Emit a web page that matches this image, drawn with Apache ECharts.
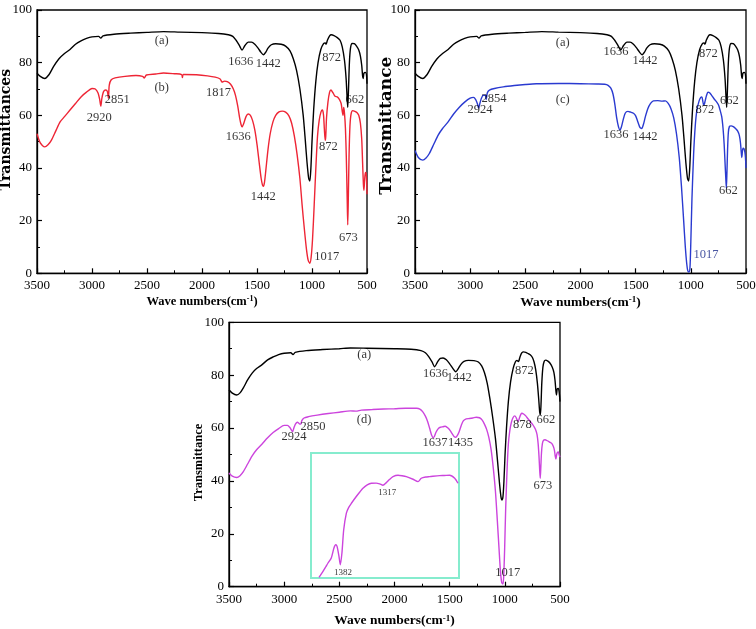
<!DOCTYPE html>
<html><head><meta charset="utf-8">
<script src="https://cdn.jsdelivr.net/npm/echarts@6/dist/echarts.min.js"></script>
<style>html,body{margin:0;padding:0;background:#fff}#c{width:756px;height:629px}</style>
</head><body><div id="c"></div>
<script>
// ---- data: [wavenumber (cm-1), transmittance] ----
const curveA_top = [[3500,76],[3470,74.8],[3430,74],[3390,75.5],[3350,78.5],[3300,81.5],[3250,83.5],[3200,85],[3150,87],[3100,88.3],[3050,89.2],[3000,89.8],[2940,90],[2920,89.3],[2900,90.2],[2800,90.8],[2650,91.2],[2500,91.5],[2350,91.8],[2200,91.6],[2000,91.4],[1850,91.1],[1760,90.6],[1720,90],[1690,88.5],[1660,86.5],[1636,84.8],[1610,86.5],[1580,87.8],[1550,87.8],[1520,87],[1490,85.5],[1465,84],[1442,83],[1420,84],[1400,85.5],[1370,86.8],[1330,87.2],[1280,87],[1240,86.3],[1200,84.5],[1170,81.5],[1140,77],[1110,70],[1080,60],[1060,50],[1045,42],[1030,36],[1020,35],[1010,40],[1000,50],[985,62],[965,73],[945,80],[920,85],[895,87.2],[880,87.5],[872,87],[860,88.5],[840,90.2],[825,90.6],[800,90.3],[770,89.5],[745,88.5],[725,86],[705,81],[690,74],[680,66],[675,63],[668,70],[660,80],[650,85.5],[635,87.3],[615,87.2],[595,86.3],[575,84.8],[560,82.5],[548,79],[540,75],[535,74],[528,76],[515,76.3],[505,75.5],[500,72]];
const curveB = [[3500,53],[3470,49.5],[3430,48],[3400,48.8],[3370,50.5],[3330,54],[3290,57.5],[3250,59.5],[3200,62],[3150,64.5],[3100,67],[3050,68.8],[3000,70.2],[2970,70],[2945,68.5],[2930,66],[2920,63.5],[2910,66.5],[2895,69],[2875,69.6],[2860,69],[2851,66.5],[2843,71.5],[2825,73.5],[2790,74.2],[2700,74.8],[2600,75.1],[2540,74.8],[2525,74.2],[2505,75.3],[2420,75.7],[2350,76.1],[2250,75.8],[2185,75.5],[2178,74.3],[2170,75.5],[2050,75.4],[1950,75],[1880,74.5],[1835,73.8],[1817,72.6],[1795,73],[1770,72.8],[1740,71.8],[1715,70],[1695,67.5],[1675,63.5],[1658,59],[1645,56.5],[1636,55.6],[1620,57],[1600,59.5],[1580,60.5],[1560,60],[1540,58],[1520,54.5],[1500,49],[1480,42],[1462,36],[1450,33.5],[1442,33],[1432,34.5],[1420,39],[1400,47],[1380,53],[1355,57.5],[1330,60],[1300,61.3],[1270,61.6],[1240,61.2],[1210,59.8],[1185,57],[1160,52],[1135,45],[1110,36],[1090,26],[1070,17],[1050,9],[1035,5],[1020,3.8],[1008,6],[995,13],[980,26],[965,40],[950,52],[935,58],[918,61.3],[905,62],[895,60],[888,55],[880,50.5],[875,52],[868,59],[855,65],[840,68.8],[828,69.6],[810,68.6],[790,67.2],[770,67],[750,66],[735,64.5],[725,61.5],[718,60],[712,63],[705,61],[696,55],[688,44],[680,28],[675,18.4],[670,28],[663,45],[655,56],[645,60.5],[630,61.8],[610,61.5],[590,61],[575,60],[560,57],[548,51],[540,42],[533,34],[528,31.5],[522,35],[515,38.3],[508,38],[503,35],[500,30]];
const curveC = [[3500,46.6],[3470,44],[3430,43],[3400,43.8],[3370,45.5],[3330,49],[3290,52.5],[3250,55],[3200,57.5],[3150,60.5],[3100,63],[3050,65],[3000,66.5],[2970,66.8],[2950,66],[2935,64.5],[2924,62.7],[2912,64.5],[2898,66.5],[2880,67.6],[2862,67.5],[2854,66],[2845,68.5],[2825,69.6],[2780,70.2],[2700,70.8],[2600,71.3],[2500,71.7],[2400,72],[2200,72.1],[2000,72],[1850,71.9],[1780,71.8],[1750,71.4],[1725,70.3],[1705,68],[1688,64],[1672,59],[1655,55.5],[1642,54.4],[1630,55.5],[1615,58],[1595,60.8],[1570,61.5],[1545,61.2],[1520,60.8],[1500,59.8],[1480,57.5],[1460,55.3],[1445,55],[1430,56.5],[1412,59.5],[1390,62.5],[1365,64.5],[1340,65.5],[1300,65.6],[1260,65.4],[1230,65.5],[1205,64.5],[1180,62.5],[1155,59],[1130,53],[1105,44],[1085,33],[1065,20],[1050,10],[1038,4],[1028,1],[1017,0.5],[1008,2],[1000,12],[990,28],[975,45],[960,56],[945,62],[925,65.5],[910,66.8],[900,67],[892,65.5],[885,64],[878,64.2],[870,65.5],[858,67.5],[845,68.8],[830,68.6],[810,67.5],[790,66.3],[770,65.3],[750,64],[735,62],[720,59.5],[708,55],[698,49],[690,42],[683,36],[678,32.3],[673,38],[667,47],[660,53.5],[650,55.8],[635,56],[615,55.7],[595,55],[575,54],[560,52.3],[550,49.5],[543,46],[538,44],[533,46],[527,47.5],[518,47.3],[510,46],[505,44],[500,40]];
const curveA_bottom = [[3500,74.5],[3470,73.2],[3430,72.5],[3400,73.3],[3370,75.2],[3330,78.3],[3290,80.8],[3250,82.5],[3200,84],[3150,85.8],[3100,86.9],[3050,87.8],[3000,88.3],[2940,88.5],[2920,87.8],[2900,88.6],[2800,89.3],[2650,89.7],[2500,90],[2400,90.3],[2250,90.2],[2000,90],[1850,89.8],[1760,89.3],[1720,88.5],[1690,87],[1660,85],[1636,83.2],[1610,85],[1585,86.4],[1560,86.5],[1530,85.8],[1500,84.3],[1470,82.5],[1445,81.3],[1425,82.3],[1400,84],[1370,85.2],[1330,85.6],[1280,85.5],[1240,85],[1210,83.5],[1185,81],[1160,77],[1135,71],[1110,64],[1085,56],[1065,47],[1048,39],[1035,34],[1025,32.8],[1017,34],[1008,40],[998,50],[985,60],[968,70],[948,77.5],[925,82.5],[905,85],[890,85.6],[880,85.2],[872,85.5],[862,87],[845,88.5],[830,88.8],[810,88.6],[790,88.2],[770,87.7],[750,86.7],[735,85],[720,82],[705,77],[693,71],[684,66],[678,65],[672,69],[665,77],[655,83],[643,85.3],[630,85.7],[610,85.3],[590,84.5],[570,83],[555,81],[545,78],[537,74],[532,72.5],[525,74.8],[515,75],[507,73.5],[500,70]];
const curveD = [[3500,43],[3470,41.8],[3430,41.3],[3400,42],[3370,43.5],[3330,46.5],[3290,49.5],[3250,51.8],[3200,54],[3150,56.3],[3100,58.3],[3050,59.8],[3000,61],[2970,61],[2950,60.3],[2935,59.3],[2924,58.6],[2912,60],[2898,61.5],[2880,62.2],[2862,61.6],[2850,61.5],[2840,62.8],[2820,63.8],[2780,64.3],[2700,64.9],[2600,65.5],[2500,66],[2400,66.5],[2350,66.4],[2300,66.8],[2200,67],[2100,67.2],[2000,67.3],[1900,67.5],[1800,67.5],[1770,67.2],[1745,66.2],[1720,64.5],[1700,62.5],[1682,60],[1665,57.5],[1650,56.4],[1640,56.7],[1625,58.3],[1605,59.7],[1585,60.3],[1560,60.5],[1540,60.7],[1515,60],[1495,59],[1475,57.7],[1460,56.8],[1445,56.5],[1430,57.2],[1415,58.5],[1395,61],[1375,62.8],[1350,63.5],[1320,63.6],[1290,63.8],[1260,64.1],[1230,63.9],[1205,63],[1185,61.5],[1165,59.5],[1145,56.5],[1125,52],[1105,45],[1085,36],[1068,25],[1052,14],[1040,6],[1028,1.5],[1017,1],[1010,4],[1002,14],[992,30],[980,44],[968,54],[955,59],[940,62.3],[925,64],[910,64.6],[898,64],[888,63],[878,62.6],[868,63.8],[855,65.2],[845,65.6],[830,65.3],[810,64.6],[790,63.5],[770,62.5],[750,61.5],[735,60.5],[720,59.3],[708,57.5],[698,54],[690,49],[684,44],[679,41],[674,45],[668,50.5],[660,54],[650,55.3],[635,55.6],[615,55.2],[595,54.7],[575,54.2],[560,53],[550,51.5],[543,49.3],[537,48.3],[531,49.8],[524,50.7],[515,51],[508,50],[500,49]];
// inset curve in box-relative units (0..100)
const insetCurve = [[5.4,0.5],[8.1,5.3],[10,9],[11.5,12],[13.7,16],[15.5,24],[16.7,26.6],[17.6,25.3],[18.9,17.3],[19.8,10.6],[20.9,20],[22.1,38.6],[23.9,51.9],[25.5,56.5],[27.3,59.8],[30.6,65.2],[33,68.8],[35.1,71.8],[38,74.5],[40.8,75.8],[44,75.9],[46.4,75.3],[48.6,74.2],[50.9,76.3],[53,78.8],[55.4,81.1],[58.8,82.2],[61.5,81.8],[64.4,81.1],[68.9,79],[72.3,77.1],[74.5,79.8],[77.5,80.8],[80.2,81.1],[86.9,81.9],[90,82],[93.7,82.2],[97.1,79.8],[99.3,75.8]];
// annotations: [wavenumber, T, text]
const labelsTL = [[2366,88.3,'(a)'],[1648,80.4,'1636'],[1397,79.7,'1442'],[821,82,'872'],[611,65.8,'662'],[2366,70.3,'(b)'],[1851,68.4,'1817'],[2934,59.1,'2920'],[2770,66.1,'2851'],[1670,51.9,'1636'],[852,48.1,'872'],[1443,29.1,'1442'],[670,13.7,'673'],[866,6.3,'1017']];
const labelsTR = [[2161,87.7,'(a)'],[1678,84.2,'1636'],[1415,80.6,'1442'],[842,83.5,'872'],[651,65.6,'662'],[2161,65.8,'(c)'],[2784,66.2,'2854'],[2911,62,'2924'],[1678,52.8,'1636'],[1415,51.9,'1442'],[872,62,'872'],[660,31.4,'662'],[863,7,'1017']];
const labelsB = [[2275,87.6,'(a)'],[1628,80.7,'1636'],[1414,79,'1442'],[824,81.6,'872'],[627,63.3,'662'],[2275,63.3,'(d)'],[2738,60.5,'2850'],[2910,56.7,'2924'],[1634,54.5,'1637'],[1401,54.5,'1435'],[842,61.2,'878'],[655,38.2,'673'],[974,5.1,'1017']];
const labelsInset = [[51.6,68.6,'1317'],[21.6,4.5,'1382']];
const xTicks = [3500,3000,2500,2000,1500,1000,500];
const yTicks = [0,20,40,60,80,100];

const FONT = 'Liberation Serif';
const chart = echarts.init(document.getElementById('c'));
const grids = [
  {left:37, top:10, width:330, height:263.3},
  {left:415, top:10, width:331, height:263.3},
  {left:229, top:322.3, width:331, height:264.4},
  {left:311, top:453, width:148, height:125}
];
function xAx(gi,fs,gap){
  return {gridIndex:gi, type:'value', inverse:true, min:500, max:3500, interval:500,
    name:'Wave numbers(cm{s|-1})', nameLocation:'middle', nameGap: gap, nameMoveOverlap:false,
    nameTextStyle:{fontFamily:FONT, fontWeight:'bold', fontSize:fs, color:'#000',
      rich:{s:{fontFamily:FONT,fontWeight:'bold',fontSize:Math.round(fs*0.65),verticalAlign:'top',padding:[0,0,5,0]}}},
    axisLine:{show:true,onZero:false,lineStyle:{color:'#000',width:1.3}},
    axisTick:{show:true,inside:true,length:5,lineStyle:{color:'#000',width:1.2}},
    minorTick:{show:true,splitNumber:2,length:3,lineStyle:{color:'#000'}},
    splitLine:{show:false},
    axisLabel:{fontFamily:FONT,fontSize:13,color:'#000',margin:6,
      formatter:v=>xTicks.includes(v)?String(v):''}
  };
}
function yAx(gi,name,gap,font,fs,pad){
  return {gridIndex:gi, type:'value', min:0, max:100, interval:20,
    name:name, nameLocation:'middle', nameGap:gap, nameRotate:90, nameMoveOverlap:false,
    nameTextStyle:{fontFamily:font, fontWeight:'bold', fontSize:fs, color:'#000', padding:pad},
    axisLine:{show:true,onZero:false,lineStyle:{color:'#000',width:1.3}},
    axisTick:{show:true,inside:true,length:5,lineStyle:{color:'#000',width:1.2}},
    minorTick:{show:true,splitNumber:2,length:3,lineStyle:{color:'#000'}},
    splitLine:{show:false},
    axisLabel:{fontFamily:FONT,fontSize:13,color:'#000',margin:5,
      formatter:v=>yTicks.includes(v)?String(v):''}
  };
}
function line(data,color,gi){
  return {type:'line', xAxisIndex:gi, yAxisIndex:gi, data:data, showSymbol:false, symbol:'none',
    smooth:0.25, lineStyle:{color:color,width:1.4}, z:3, silent:true};
}
function labs(arr,gi,size,colors){
  return {type:'scatter', xAxisIndex:gi, yAxisIndex:gi, symbolSize:1, itemStyle:{color:'rgba(0,0,0,0)'},
    data:arr.map((d,i)=>({value:[d[0],d[1]], name:d[2],
      label:{color:(colors&&colors[i])||'#000'}})),
    label:{show:true, position:'inside', formatter:p=>p.name, fontFamily:FONT, fontSize:size, color:'#000', textBorderWidth:0},
    z:5, silent:true};
}
const option = {
  animation:false,
  grid: grids.map((g,i)=>Object.assign({show:true, containLabel:false, outerBoundsMode:'none',
    borderColor: i===3?'#86ecce':'#000', borderWidth: i===3?2:1.3, backgroundColor:'transparent'}, g)),
  xAxis:[xAx(0,12.5,22),xAx(1,13.5,22),xAx(2,13.5,27),
    {gridIndex:3,type:'value',min:0,max:100,show:false}],
  yAxis:[yAx(0,'Transmittances',24,'DejaVu Serif',14,[0,0,0,24]),
    yAx(1,'Transmittance',20,'DejaVu Serif',17,[0,0,0,32]),
    yAx(2,'Transmittance',24,FONT,12.5,[0,16,0,0]),
    {gridIndex:3,type:'value',min:0,max:100,show:false}],
  series:[
    line(curveA_top,'#000',0), line(curveB,'#ee2535',0),
    line(curveA_top,'#000',1), line(curveC,'#2a3ad0',1),
    line(curveA_bottom,'#000',2), line(curveD,'#cc44dd',2),
    line(insetCurve,'#cc44dd',3),
    labs(labelsTL,0,12.5), labs(labelsTR,1,12.5,labelsTR.map(d=>d[2]==='1017'?'#1a2a8a':'#000')), labs(labelsB,2,12.5),
    labs(labelsInset,3,9)
  ]
};
chart.setOption(option);
</script></body></html>
